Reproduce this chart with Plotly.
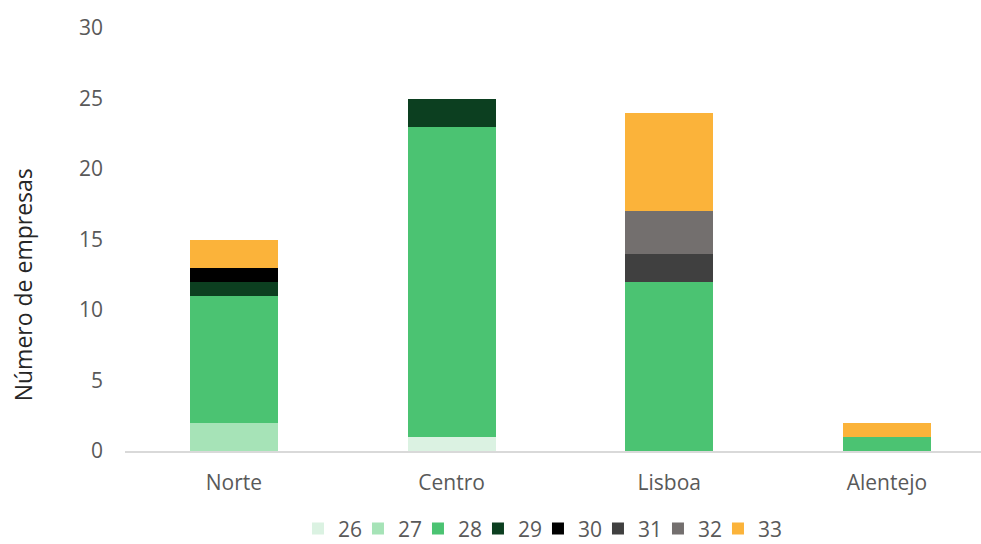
import plotly.graph_objects as go

# Regions on the x axis
regions = ["Norte", "Centro", "Lisboa", "Alentejo"]

# Number of companies per code, stacked bottom to top
series_names = ["26", "27", "28", "29", "30", "31", "32", "33"]
v26 = [0, 1, 0, 0]
v27 = [2, 0, 0, 0]
v28 = [9, 22, 12, 1]
v29 = [1, 2, 0, 0]
v30 = [1, 0, 0, 0]
v31 = [0, 0, 2, 0]
v32 = [0, 0, 3, 0]
v33 = [2, 0, 7, 1]
series_values = [v26, v27, v28, v29, v30, v31, v32, v33]

colors = ["#dbf2e2", "#a6e3b7", "#4bc372", "#0c3f20",
          "#000000", "#404040", "#736f6e", "#fbb33a"]

y_ticks = [0, 5, 10, 15, 20, 25, 30]

FONT = "Open Sans"
TICK_COLOR = "#595959"

fig = go.Figure()
for name, vals, col in zip(series_names, series_values, colors):
    fig.add_trace(go.Bar(
        x=regions, y=vals, name=name,
        marker=dict(color=col, line=dict(width=0)),
        width=0.404,
    ))

# Empty trailing legend slot so the last label is not clipped by the
# fixed entry width
fig.add_trace(go.Bar(
    x=[None], y=[None], name=" ",
    marker=dict(color="rgba(0,0,0,0)", line=dict(width=0)),
    hoverinfo="skip",
))

fig.update_layout(
    width=981, height=544,
    margin=dict(l=125, r=0, t=28, b=93, autoexpand=False),
    barmode="stack",
    plot_bgcolor="white", paper_bgcolor="white",
    font=dict(family=FONT, size=21, color=TICK_COLOR),
    xaxis=dict(
        range=[-0.5, 3.432],
        showgrid=False, zeroline=False,
        showline=True, linecolor="#d9d9d9", linewidth=1.5,
        ticks="", ticklabelstandoff=12,
        tickfont=dict(family=FONT, size=21, color=TICK_COLOR),
        fixedrange=True,
    ),
    yaxis=dict(
        range=[0, 30],
        tickvals=y_ticks,
        showgrid=False, zeroline=False, showline=False,
        ticks="", ticklabelstandoff=21,
        tickfont=dict(family=FONT, size=21, color=TICK_COLOR),
        fixedrange=True,
    ),
    legend=dict(
        orientation="h",
        x=0.5175, xanchor="center",
        y=-0.184, yanchor="middle",
        font=dict(family=FONT, size=21, color=TICK_COLOR),
        traceorder="normal",
        itemwidth=30,
        entrywidth=15,
    ),
    annotations=[dict(
        text="Número de empresas",
        xref="paper", yref="paper",
        x=-0.119, y=0.392, xanchor="center", yanchor="middle",
        textangle=-90, showarrow=False,
        font=dict(family=FONT, size=23, color="#262626"),
    )],
)

fig.write_html("out.html")
